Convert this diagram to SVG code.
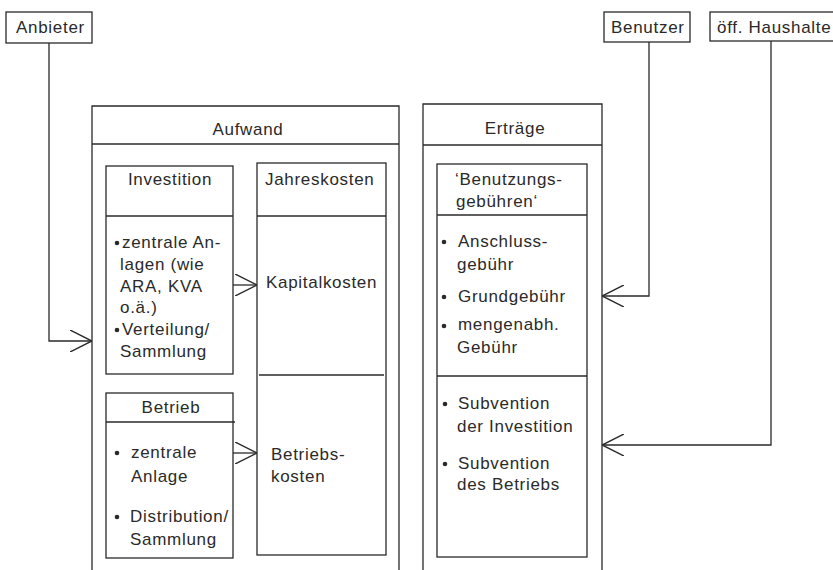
<svg xmlns="http://www.w3.org/2000/svg" width="833" height="570" viewBox="0 0 833 570">
<defs>
<style>
rect,line,path.b{fill:none;stroke:#2a2a2a;stroke-width:1.3}
rect.bg{fill:#fff;stroke:none}
.c{fill:none;stroke:#2a2a2a;stroke-width:1.3}
text{font-family:"Liberation Sans",Arial,sans-serif;font-size:17px;letter-spacing:0.7px;fill:#2a2a2a}
.m{text-anchor:middle}
circle{fill:#2a2a2a}
</style>
<marker id="ah" markerUnits="userSpaceOnUse" markerWidth="22" markerHeight="22" viewBox="0 0 20 20" refX="20" refY="10" orient="auto">
<path d="M0,0 L20,10 L0,20" fill="none" stroke="#2a2a2a" stroke-width="1.3"/>
</marker>
</defs>
<rect class="bg" width="833" height="570"/>

<g id="anbieter">
<rect x="6" y="12" width="86" height="31"/>
<text x="16" y="33">Anbieter</text>
</g>
<g id="benutzer">
<rect x="604" y="12" width="86" height="30"/>
<text x="611" y="33">Benutzer</text>
</g>
<g id="haushalte">
<rect x="710" y="12" width="140" height="29"/>
<text x="717" y="33">öff. Haushalte</text>
</g>

<g id="aufwand">
<path class="b" d="M92,575 V106 H399 V575"/>
<line x1="92" y1="144" x2="399" y2="144"/>
<text class="m" x="248" y="135">Aufwand</text>
</g>

<g id="investition">
<rect x="106" y="166" width="127" height="208"/>
<line x1="106" y1="216" x2="233" y2="216"/>
<text class="m" x="170" y="185">Investition</text>
<circle cx="117" cy="243" r="2.3"/>
<text x="122" y="248">zentrale An-</text>
<text x="120" y="270">lagen (wie</text>
<text x="120" y="292">ARA, KVA</text>
<text x="120" y="313">o.ä.)</text>
<circle cx="117" cy="330" r="2.3"/>
<text x="122" y="335">Verteilung/</text>
<text x="120" y="357">Sammlung</text>
</g>

<g id="betrieb">
<rect x="106" y="393" width="127" height="165"/>
<line x1="106" y1="422" x2="235" y2="422"/>
<text class="m" x="171" y="413">Betrieb</text>
<circle cx="117" cy="453" r="2.3"/>
<text x="131" y="458">zentrale</text>
<text x="131" y="482">Anlage</text>
<circle cx="117" cy="517" r="2.3"/>
<text x="130" y="522">Distribution/</text>
<text x="130" y="545">Sammlung</text>
</g>

<g id="jahreskosten">
<rect x="257" y="163" width="129" height="392"/>
<line x1="257" y1="216" x2="386" y2="216"/>
<line x1="259" y1="375" x2="384" y2="375"/>
<text x="265" y="185">Jahreskosten</text>
<text x="266" y="288">Kapitalkosten</text>
<text x="271" y="460">Betriebs-</text>
<text x="271" y="482">kosten</text>
</g>

<g id="ertraege">
<path class="b" d="M423,575 V104 H602 V575"/>
<line x1="423" y1="145" x2="602" y2="145"/>
<text class="m" x="515" y="134">Erträge</text>
</g>

<g id="gebuehren">
<rect x="437" y="164" width="150" height="393"/>
<line x1="437" y1="215" x2="587" y2="215"/>
<line x1="437" y1="376" x2="587" y2="376"/>
<text x="455" y="185">‘Benutzungs-</text>
<text x="456" y="207">gebühren‘</text>
<circle cx="444" cy="242" r="2.3"/>
<text x="458" y="247">Anschluss-</text>
<text x="457" y="270">gebühr</text>
<circle cx="444" cy="297" r="2.3"/>
<text x="458" y="302">Grundgebühr</text>
<circle cx="444" cy="326" r="2.3"/>
<text x="458" y="330">mengenabh.</text>
<text x="457" y="353">Gebühr</text>
<circle cx="445" cy="404" r="2.3"/>
<text x="458" y="409">Subvention</text>
<text x="457" y="432">der Investition</text>
<circle cx="445" cy="464" r="2.3"/>
<text x="458" y="469">Subvention</text>
<text x="457" y="490">des Betriebs</text>
</g>

<g id="connectors">
<path class="c" d="M49,43 V341 H92" marker-end="url(#ah)"/>
<path class="c" d="M649,42 V296 H602" marker-end="url(#ah)"/>
<path class="c" d="M771,41 V445 H602" marker-end="url(#ah)"/>
<path class="c" d="M233,285 H257" marker-end="url(#ah)"/>
<path class="c" d="M233,453 H257" marker-end="url(#ah)"/>
</g>
</svg>
